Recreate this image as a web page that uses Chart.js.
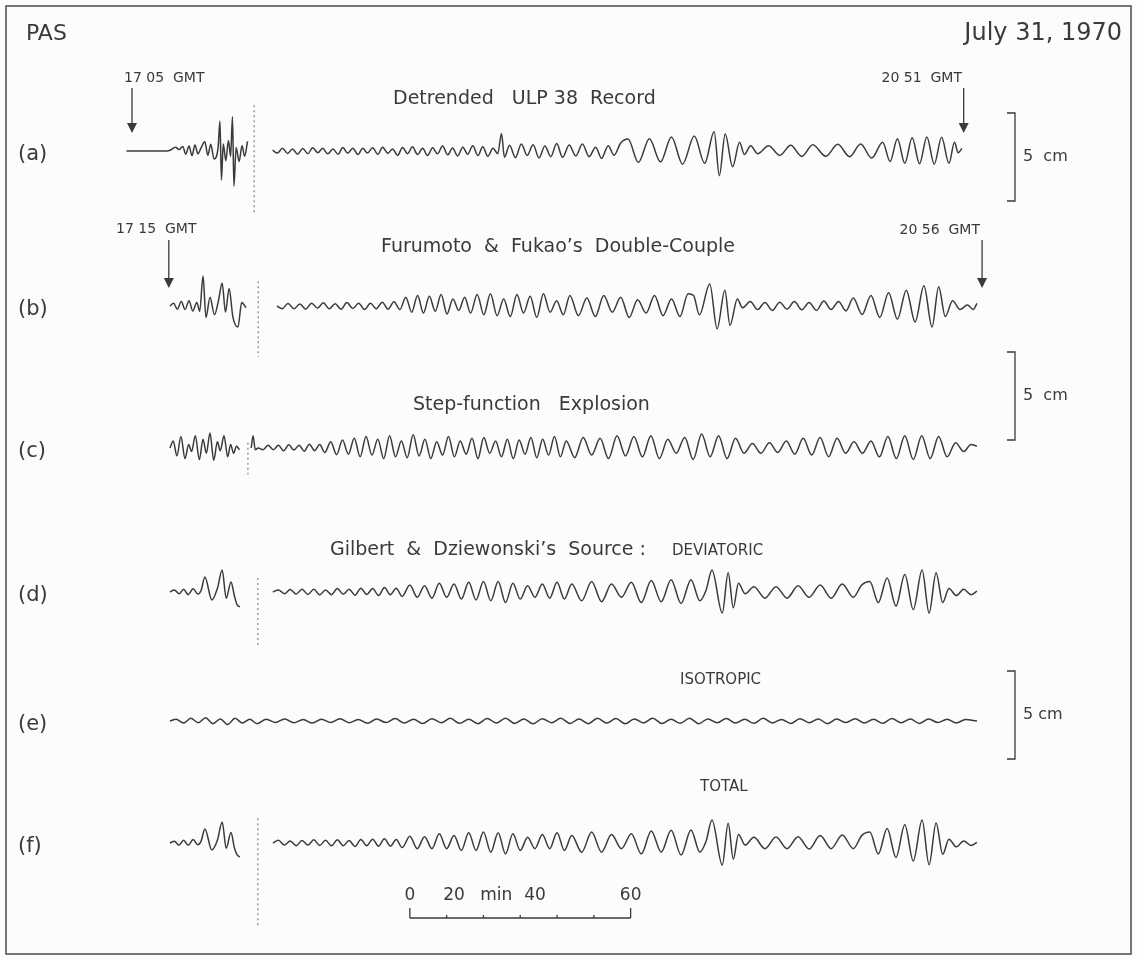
<!DOCTYPE html>
<html>
<head>
<meta charset="utf-8">
<script src="https://cdn.jsdelivr.net/npm/chart.js@4.4.0/dist/chart.umd.min.js"></script>
<style>
  html, body { margin: 0; padding: 0; background: #fcfcfb; }
  canvas { display: block; }
</style>
</head>
<body>
<canvas id="seis" width="1137" height="960"></canvas>
<script>
// Seismograms, PAS, July 31 1970
// time: minutes after 17:00 GMT, amplitude: mm on the record (5 cm bar = 50 mm)

var traceA = [[3.5,0],[14.5,0],[15.5,0.6],[16.8,2.2],[17.8,0.8],[18.8,2.6],[19.6,-1.8],[20.5,2.8],[21.3,-2.6],[22.1,3.4],[22.9,-1.6],[23.7,1.5],[24.8,5.2],[25.6,-2.4],[26.4,3.8],[27.3,-4.5],[28.4,2],
  [28.9,17],[29.3,-16.5],[29.8,4],[30.5,-5.5],[31.2,6],[31.8,-3],[32.3,19.5],[32.7,-20],[33.3,2],[34.1,-6],[34.9,3],[35.6,-3],[36.4,5.5],[37,null],
  [43.2,0.5],[44.5,-1.2],[45.9,1.5],[47.3,-1.4],[48.6,1.2],[50,-1.8],[51.4,1.4],[52.8,-1.5],[54.1,1.8],[55.5,-1],[56.8,1.5],[58.2,-1.6],[59.6,1.1],[61,-1.8],[62.3,2],[63.6,-1.3],[65,1.6],[66.4,-2],[67.7,1.5],[69,-1.2],[70.4,1.9],[71.8,-1.9],[73.1,2.2],[74.5,-1.3],[75.8,1.2],[77.2,-2.4],[78.5,2],[79.9,-1.5],[81.2,2.4],[82.6,-2],[84,1.5],[85.3,-2.6],[86.7,1.8],[88,-1.6],[89.4,2.8],[90.8,-2.2],[92.1,1.7],[93.5,-2.8],[94.9,2.2],[96.2,-1.8],[97.6,3],[99,-2.6],[100.3,2.4],[101.7,-3],[103.1,1.5],[104.4,-1.5],
  [105.4,10],[106.2,-3.5],[107.6,3.2],[109.2,-3.8],[110.8,4],[112.4,-2.5],[114,3.6],[115.6,-4],[117.2,2.8],[118.8,-3.2],[120.4,4.2],[122,-3.6],[123.8,3.4],[125.6,-2.8],[127.4,4],[129.2,-3.2],[131,2.2],[132.6,-4.2],[134.4,3],[136,-2.4],[137.8,4.5],
  [139.8,6.8],[142.6,-6.5],[145.6,7],[148.6,-6.2],[151.6,8],[154.6,-7.5],[157.8,8.5],[160.6,-7],
  [163.2,11],[164.6,-14],[166.2,9.6],[168.2,-9],[170.1,5],[171.4,-2],[173.1,3],
  [175,-1.5],[178,3],[181,-2.5],[184,3.2],[187,-3],[190,3.5],[193.5,-3],[196.8,3.8],[200,-3.2],[203,4],[206,-4],[209,5],
  [211,-6],[213,7],[215,-7],[217,7.5],[219,-7.2],[221,8],[223,-7.5],[225,7.8],[227,-7],[228.5,5],[229.5,-1],[230.5,1.5]];

var traceB = [[15.3,0],[16.3,1.5],[17.3,-1.8],[18.4,2.5],[19.4,-2],[20.5,3],[21.5,-2.8],[22.6,2],[23.4,-3],[24.3,17],[25.1,-6.5],[26.2,5],[27.4,-5],[28.5,3],[29.5,13],[30.4,-3.5],[31.4,10],[32.4,-6],[33.8,-12],[34.8,2],[36,-1],[37,null],
  [44.4,0],[45.8,-1.5],[47.4,1.4],[49,-1.6],[50.6,1.2],[52.2,-1.8],[53.8,1.6],[55.4,-1.2],[57,1.8],[58.6,-1.6],[60.2,1.3],[61.8,-1.8],[63.4,2],[65,-1.4],[66.6,1.6],[68.2,-2],[69.8,1.5],[71.4,-1.6],[73,2.2],[74.6,-1.8],[76.2,2.4],[77.8,-2],
  [79.4,5],[81,-3.5],[82.6,6],[84.2,-4],[85.8,5.5],[87.4,-3],[89,6.5],[90.6,-4.5],[92.2,4],[93.8,-2.5],[95.4,5],[97,-4],[98.8,6.5],[100.6,-5],[102.4,7],[104.2,-5.5],[106,4],[107.8,-6],[109.6,6.5],[111.4,-4],[113.2,5.5],[115,-6.5],[116.8,7],[118.6,-3.5],[120.4,3],[122.2,-5],[124,6],
  [126.3,-5.5],[128.6,4.5],[130.9,-6],[133.2,6],[135.5,-3.5],[137.8,5],[140.1,-6.5],[142.4,3.5],[144.7,-4],[147,6],[149.3,-5.5],[151.6,4],[153.9,-6],[156.1,7],
  [157.6,6],[159.2,-5],[162,12.5],[164,-13],[166.1,9],[167.5,-11],[169.5,4],[170.9,-1],
  [173,2.5],[175,-2],[177,2],[179,-2.5],[181,2.2],[183,-1.8],[185,2.5],[187,-2.2],[189,2],[191,-2.5],[193,2.8],[195,-2],[197,2.6],[199,-2.8],
  [201,4.5],[203.4,-4.8],[205.8,6],[208.2,-6.5],[210.6,7.5],[213,-7.5],[215.4,9],[217.8,-9],[220.2,11.5],[222.4,-12],[224.2,11],[226,-6],[228,3],[230,-2],[232,0.5],[233.6,-2],[234.6,1.5]];

var traceC = [[15.3,0],[16.2,4],[17.2,-4.5],[18.3,6.5],[19.4,-6],[20.4,2],[21.2,-2],[22.2,7],[23.3,-6.5],[24.3,5],[25.2,-3],[26.2,8.5],[27.2,-7],[28.2,3.5],[29,-1.5],[30,7],[31,-5],[31.8,2],[32.6,-3],[33.4,1],[34.2,-1],[35,null],
  [37.4,0],[37.9,7],[38.5,-1],[39.3,0],[40.6,-1],[42,1.5],[43.4,-1],[44.8,1.5],[46.2,-1.6],[47.6,1.8],[49,-1.2],[50.4,1.6],[51.8,-1.8],[53.2,2.2],[54.6,-1.5],[56,2],
  [57.4,-2.5],[59,3.5],[60.6,-3.8],[62.2,4.5],[63.8,-3.5],[65.4,5.5],[67,-5],[68.6,6.5],[70.2,-4],[71.8,5],[73.4,-6],[75,7],[76.6,-5],[78.2,4],[79.8,-5.5],[81.4,7.5],[83,-4.5],[84.6,5],[86.2,-6],[87.8,3.5],[89.4,-4],[91,6.5],[92.6,-5],[94.2,4],[95.8,-3.5],[97.4,5.5],[99,-6],[100.6,6],[102.2,-3],[103.8,4],[105.4,-5],[107,5],[108.6,-6],[110.2,4.5],[111.8,-3.5],[113.4,6],[115,-5.5],[116.6,5],[118.2,-4],[119.8,6.5],[121.4,-5],[123,4],
  [125.3,-5.5],[127.6,6],[129.9,-4],[132.2,5.5],[134.5,-6],[136.8,7],[139.1,-4.5],[141.4,6.5],[143.7,-5],[146,7],[148.3,-6],[150.6,5],[152.9,-3],[155.2,6],[157.5,-6.5],[159.8,8],[162.1,-5],[164.4,7],[166.7,-6],[169,5.5],[171.3,-3],[173.6,2.5],[175.9,-3],[178.2,3],[180.5,-2.5],[182.8,4],[185.1,-3.5],[187.4,5.5],[189.7,-4],[192,6],[194.3,-5],[196.6,5.5],[198.9,-3],[201.2,3.5],[203.5,-3],[205.8,4],[208.1,-5],[210.4,6.5],[212.7,-6],[215,7],[217.3,-6.5],[219.6,7],[221.9,-6],[224.2,6.5],[226.5,-5],[228.8,3],[231,-2],[233,2],[234.6,1]];

var traceD = [[15.3,0],[16.5,1.2],[17.8,-1],[19,1.5],[20.3,-1.5],[21.6,1.8],[22.9,-1.2],[23.8,1],[24.8,8.5],[26.7,-4.5],[28.2,2],[29.5,12.5],[30.6,-3.5],[31.9,5.7],[32.8,-2],[33.5,-7],[34.3,-8.5],[35,null],
  [43.3,0],[44.8,1.2],[46.4,-1],[48,1.4],[49.6,-1.2],[51.2,1.6],[52.8,-1.4],[54.4,1.5],[56,-1.6],[57.6,1.2],[59.2,-1.5],[60.8,2],[62.4,-1.3],[64,1.6],[65.6,-1.8],[67.2,2.2],[68.8,-1.4],[70.4,2],[72,-2],[73.6,2.5],[75.2,-1.6],[76.8,2.2],[78.4,-2.5],
  [80.5,4],[82.5,-3],[84.5,3.5],[86.5,-3.5],[88.5,5],[90.5,-3],[92.5,4.5],[94.5,-4],[96.5,5.5],[98.5,-4.5],[100.5,6],[102.5,-5],[104.5,6],[106.5,-6],[108.5,5],[110.5,-4],[112.5,3.5],[114.5,-3],[116.5,4.5],[118.5,-3.5],[120.5,5.5],[122.5,-4],[124.5,4.5],
  [127.2,-5],[129.9,6],[132.6,-5.5],[135.3,4.5],[138,-3],[140.7,5.5],[143.4,-6],[146.1,6.5],[148.8,-5.5],[151.5,7],[154.2,-6.5],[156.9,7],[159.3,-5],
  [161,1],[162.6,12.5],[165.4,-12],[167,11],[168.4,-9],[169.8,5],[171.6,-1],
  [174,3],[177,-3.5],[180,3],[183,-3.5],[186,3.5],[189,-3],[192,4],[195,-3.5],[198,4.5],[201,-3],
  [203.3,4],[205.5,6],[207.8,-6],[210.2,8],[212.6,-8],[215,10],[217.3,-10],[219.7,12.5],[221.6,-12],[223.5,11],[225.3,-6],[227,2],[229,-2],[231,1.5],[233,-1.5],[234.6,0.5]];

var traceE = [[15.3,0],[17,1],[19,-1.2],[21,1.5],[23,-1],[25,1.8],[27,-1.5],[29,1.2],[31,-2],[33,1.6],[35,-1.2],[37,1],[39,-1.5],[41.5,1],[44,-0.8],[46.5,1.2],[49,-1],[51.5,0.8],[54,-1.2],[56.5,1],[59,-0.8],[61.5,1.3],[64,-1],[66.5,0.9],[69,-1.3],[71.5,1.2],[74,-0.9],[76.5,1.4],[79,-1.2],[81.5,1],[84,-1.4],[86.5,1.3],[89,-1],[91.5,1.5],[94,-1.3],[96.5,1],[99,-1.5],[101.5,1.4],[104,-1.1],[106.5,1.6],[109,-1.4],[111.5,1.2],[114,-1.6],[116.5,1.3],[119,-1],[121.5,1.5],[124,-1.4],[126.5,1.1],[129,-1.5],[131.5,1.6],[134,-1.2],[136.5,1.4],[139,-1.6],[141.5,1.2],[144,-1.1],[146.5,1.5],[149,-1.4],[151.5,1],[154,-1.3],[156.5,1.6],[159,-1.5],[161.5,1.2],[164,-1],[166.5,1.4],[169,-1.2],[171.5,1],[174,-1.3],[176.5,1.5],[179,-1.1],[181.5,0.9],[184,-1.4],[186.5,1.3],[189,-1],[191.5,1.2],[194,-1.5],[196.5,1.1],[199,-0.9],[201.5,1.3],[204,-1.2],[206.5,1],[209,-1.3],[211.5,1.4],[214,-1],[216.5,1.1],[219,-1.4],[221.5,1.2],[224,-0.9],[226.5,1],[229,-1.1],[231.5,0.8],[234.6,0]];

var traceF = [[15.3,0],[16.5,1],[17.8,-1.2],[19,1.6],[20.3,-1.3],[21.6,2],[22.9,-1],[23.8,1.2],[24.8,8],[26.7,-4],[28.2,1.5],[29.5,12],[30.6,-3],[31.9,6],[32.8,-2.5],[33.5,-6.5],[34.3,-8],[35,null],
  [43.3,0],[44.8,1.5],[46.4,-1.2],[48,1.2],[49.6,-1.5],[51.2,1.4],[52.8,-1.2],[54.4,1.8],[56,-1.4],[57.6,1.5],[59.2,-1.6],[60.8,1.8],[62.4,-1.5],[64,1.4],[65.6,-2],[67.2,2],[68.8,-1.6],[70.4,2.2],[72,-1.8],[73.6,2.4],[75.2,-1.8],[76.8,2],[78.4,-2.6],
  [80.5,3.8],[82.5,-3.2],[84.5,3.6],[86.5,-3.2],[88.5,5.2],[90.5,-3.2],[92.5,4.2],[94.5,-4.2],[96.5,5.8],[98.5,-4.2],[100.5,6.2],[102.5,-5.2],[104.5,5.8],[106.5,-6.2],[108.5,5.2],[110.5,-4.2],[112.5,3.2],[114.5,-3.2],[116.5,4.8],[118.5,-3.2],[120.5,5.8],[122.5,-4.2],[124.5,4.2],
  [127.2,-5.2],[129.9,6.2],[132.6,-5.2],[135.3,4.8],[138,-3.2],[140.7,5.2],[143.4,-6.2],[146.1,6.8],[148.8,-5.2],[151.5,7.2],[154.2,-6.8],[156.9,7.4],[159.3,-5.2],
  [161,1],[162.6,13],[165.4,-12.5],[167,11.2],[168.4,-9.2],[169.8,4.8],[171.6,-1.2],
  [174,3.2],[177,-3.2],[180,3.4],[183,-3.2],[186,3.6],[189,-3.4],[192,4.2],[195,-3.2],[198,4.6],[201,-3.2],
  [203.3,4.2],[205.5,6.2],[207.8,-6.2],[210.2,8.2],[212.6,-8.2],[215,10.4],[217.3,-10.2],[219.7,13],[221.6,-12.4],[223.5,11.4],[225.3,-6.4],[227,2.2],[229,-2.2],[231,1.2],[233,-1.4],[234.6,0.4]];

// faint dotted spikes near 38-39 min: [time, top, bottom] in mm
var spikes = [[38.2,26,-36],[39.3,14,-29],[36.5,3,-15],[39.2,8,-31],[null,null,null],[39.2,14,-48]];

var traceLabels = ['(a)','(b)','(c)','(d)','(e)','(f)'];
var traces = [traceA, traceB, traceC, traceD, traceE, traceF];

// layout (pixels)
var PX_PER_MM = 1.76, PX_PER_MIN = 3.68, X0_PX = 132, T0 = 5;
var baseY = [151, 306, 448, 592, 721, 843];
var W = 1137, H = 960;
var INK = '#3a3a3a';
var FONT = '"DejaVu Sans", sans-serif';

function base(i) { return (H - baseY[i]) / PX_PER_MM; }

var datasets = [];
traces.forEach(function (tr, i) {
  datasets.push({
    data: tr.map(function (p) { return {x: p[0], y: p[1] == null ? null : base(i) + p[1]}; }),
    borderColor: INK, borderWidth: 1.5, pointRadius: 0,
    cubicInterpolationMode: 'monotone', spanGaps: false
  });
});
spikes.forEach(function (s, i) {
  if (s[0] == null) return;
  datasets.push({
    data: [{x: s[0], y: base(i) + s[1]}, {x: s[0], y: base(i) + s[2]}],
    borderColor: '#8a8a8a', borderWidth: 1.3, borderDash: [2, 3], pointRadius: 0, tension: 0
  });
});

function arrow(ctx, x, y1, y2) {
  ctx.beginPath(); ctx.moveTo(x, y1); ctx.lineTo(x, y2 - 6); ctx.stroke();
  ctx.beginPath(); ctx.moveTo(x - 5, y2 - 10); ctx.lineTo(x + 5, y2 - 10); ctx.lineTo(x, y2); ctx.closePath(); ctx.fill();
}

var decor = {
  id: 'decor',
  beforeDraw: function (chart) {
    var c = chart.ctx;
    c.save(); c.fillStyle = '#fcfcfb'; c.fillRect(0, 0, W, H); c.restore();
  },
  afterDraw: function (chart) {
    var c = chart.ctx, xs = chart.scales.x, ys = chart.scales.y;
    c.save();
    c.strokeStyle = '#4a4a4a'; c.lineWidth = 1.5;
    c.strokeRect(6, 6, W - 12, H - 12);

    c.fillStyle = INK; c.strokeStyle = INK;
    c.textBaseline = 'middle';
    c.font = '22px ' + FONT;
    c.textAlign = 'left'; c.fillText('PAS', 26, 34);
    c.font = '24px ' + FONT;
    c.textAlign = 'right'; c.fillText('July 31, 1970', 1122, 34);

    c.textAlign = 'left';
    c.font = '21px ' + FONT;
    traceLabels.forEach(function (l, i) { c.fillText(l, 18, baseY[i] + 4); });

    c.font = '19px ' + FONT;
    c.fillText('Detrended   ULP 38  Record', 393, 99);
    c.fillText('Furumoto  &  Fukao\u2019s  Double-Couple', 381, 247);
    c.fillText('Step-function   Explosion', 413, 405);
    c.fillText('Gilbert  &  Dziewonski\u2019s  Source :', 330, 550);
    c.font = '15px ' + FONT;
    c.fillText('DEVIATORIC', 672, 551);
    c.fillText('ISOTROPIC', 680, 680);
    c.fillText('TOTAL', 700, 787);

    c.font = '14px ' + FONT;
    c.fillText('17 05  GMT', 124, 78);
    c.fillText('17 15  GMT', 116, 229);
    c.textAlign = 'right';
    c.fillText('20 51  GMT', 962, 78);
    c.fillText('20 56  GMT', 980, 230);
    c.textAlign = 'left';

    c.lineWidth = 1.3;
    arrow(c, xs.getPixelForValue(5), 88, 133);
    arrow(c, xs.getPixelForValue(231), 88, 133);
    arrow(c, xs.getPixelForValue(15), 240, 288);
    arrow(c, xs.getPixelForValue(236), 240, 288);

    // 5 cm bars
    var bars = [[157, '5  cm'], [396, '5  cm'], [715, '5 cm']];
    c.font = '16px ' + FONT;
    bars.forEach(function (b) {
      var half = (ys.getPixelForValue(0) - ys.getPixelForValue(25));
      var x = 1015;
      c.beginPath();
      c.moveTo(x - 8, b[0] - half); c.lineTo(x, b[0] - half); c.lineTo(x, b[0] + half); c.lineTo(x - 8, b[0] + half);
      c.stroke();
      c.fillText(b[1], x + 8, b[0]);
    });

    // time scale 0-60 min
    var s0 = 80.5, yb = 918;
    var x0 = xs.getPixelForValue(s0), x1 = xs.getPixelForValue(s0 + 60);
    c.beginPath(); c.moveTo(x0, yb); c.lineTo(x1, yb); c.stroke();
    for (var m = 0; m <= 60; m += 10) {
      var xm = xs.getPixelForValue(s0 + m);
      var h = (m === 0 || m === 60) ? 10 : 3;
      c.beginPath(); c.moveTo(xm, yb); c.lineTo(xm, yb - h); c.stroke();
    }
    c.font = '17px ' + FONT;
    c.textAlign = 'center';
    c.fillText('0', x0, 896);
    c.fillText('20', xs.getPixelForValue(s0 + 12), 896);
    c.fillText('min', xs.getPixelForValue(s0 + 23.5), 896);
    c.fillText('40', xs.getPixelForValue(s0 + 34), 896);
    c.fillText('60', x1, 896);
    c.restore();
  }
};

new Chart(document.getElementById('seis'), {
  type: 'line',
  data: {datasets: datasets},
  options: {
    responsive: false, animation: false,
    layout: {padding: 0},
    plugins: {legend: {display: false}, tooltip: {enabled: false}},
    scales: {
      x: {type: 'linear', display: false, min: T0 - X0_PX / PX_PER_MIN, max: T0 + (W - X0_PX) / PX_PER_MIN},
      y: {type: 'linear', display: false, min: 0, max: H / PX_PER_MM}
    }
  },
  plugins: [decor]
});
</script>
</body>
</html>
